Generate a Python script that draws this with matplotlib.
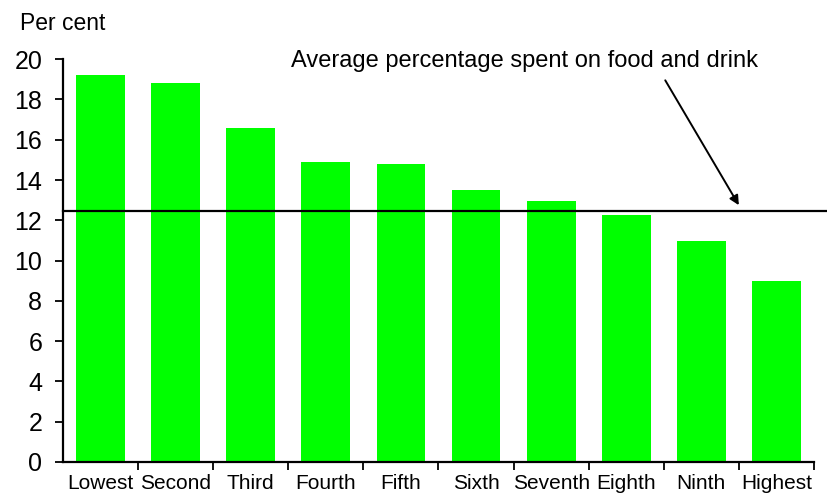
import numpy as np
from matplotlib import pyplot as plt

plt.rcParams['font.family'] = ['Liberation Sans', 'DejaVu Sans']

# decile groups and share of spending on food and drink
groups = ['Lowest', 'Second', 'Third', 'Fourth', 'Fifth',
          'Sixth', 'Seventh', 'Eighth', 'Ninth', 'Highest']
food_share = [19.2, 18.8, 16.6, 14.9, 14.8, 13.5, 12.95, 12.25, 10.95, 9.0]
average_share = 12.45

fig = plt.figure(figsize=(8.27, 4.93), dpi=100)
ax = fig.add_axes([0.0762, 0.0629, 0.908, 0.8171])

x = np.arange(len(groups))
ax.bar(x, food_share, width=0.65, color='#00ff00', zorder=2)

# average line runs past the right end of the axis
ax.axhline(average_share, xmin=0, xmax=1.02, color='black', lw=1.6,
           clip_on=False, zorder=3)

ax.set_xlim(-0.5, len(groups) - 0.5)
ax.set_ylim(0, 20)
ax.set_yticks(np.arange(0, 21, 2))
ax.tick_params(axis='y', labelsize=18, length=6, width=1.3, pad=9)

# category labels at centres, tick marks at the boundaries
ax.set_xticks(x)
ax.set_xticklabels(groups, fontsize=15)
ax.tick_params(axis='x', which='major', length=0, pad=9)
ax.set_xticks(np.arange(0.5, len(groups) - 0.4, 1.0), minor=True)
ax.tick_params(axis='x', which='minor', length=6, width=1.3)

for side in ['top', 'right']:
    ax.spines[side].set_visible(False)
for side in ['left', 'bottom']:
    ax.spines[side].set_linewidth(1.6)

ax.text(5.65, 19.9, 'Average percentage spent on food and drink',
        ha='center', va='center', fontsize=17)
ax.annotate('', xy=(8.5, 12.75), xytext=(7.52, 18.95),
            arrowprops=dict(arrowstyle='-|>', color='black', lw=1.4,
                            mutation_scale=14, shrinkA=0, shrinkB=0))

fig.text(20 / 827, 1 - 23 / 493, 'Per cent', ha='left', va='center',
         fontsize=16.5)

plt.savefig('out.png', dpi=100)
